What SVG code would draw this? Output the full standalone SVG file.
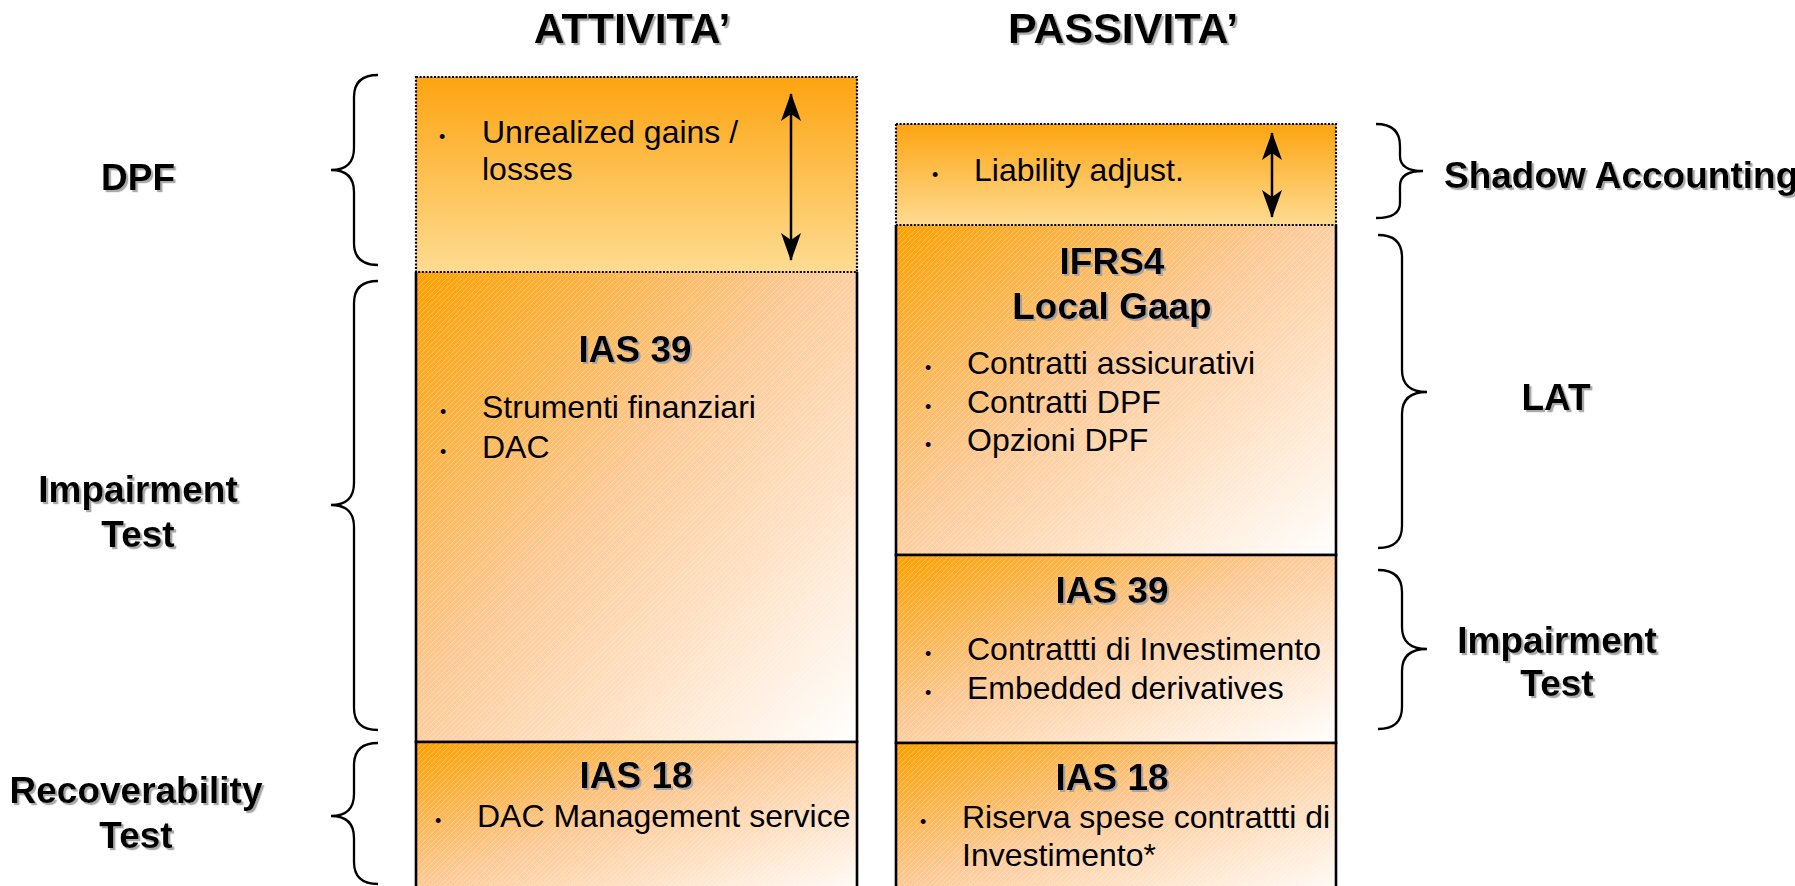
<svg xmlns="http://www.w3.org/2000/svg" width="1795" height="886" viewBox="0 0 1795 886">
  <defs>
    <style>
      text { font-family: "Liberation Sans", Arial, sans-serif; fill: #000; }
      .hdr { font-size: 43px; font-weight: bold; text-anchor: middle; filter: url(#shadow); }
      .lbl { font-size: 37px; font-weight: bold; text-anchor: middle; filter: url(#shadow); }
      .ttl { font-size: 37px; font-weight: bold; text-anchor: middle; filter: url(#shadowb); }
      .item { font-size: 32px; }
      .bul { font-size: 18px; }
      .brace { fill: none; stroke: #000; stroke-width: 2.3; }
      .dotted { stroke: #000; stroke-width: 2.2; stroke-dasharray: 2 1.6; }
      .solid { fill: none; stroke: #000; stroke-width: 2.6; }
      .arrow { stroke: #000; stroke-width: 2.5; fill: none; marker-start: url(#head); marker-end: url(#head); }
    </style>
    <filter id="shadow" x="-10%" y="-20%" width="130%" height="150%">
      <feDropShadow dx="2.2" dy="2.2" stdDeviation="0.7" flood-color="#8c8c8c" flood-opacity="0.75"/>
    </filter>
    <filter id="shadowb" x="-10%" y="-20%" width="130%" height="150%">
      <feDropShadow dx="2" dy="2" stdDeviation="0.7" flood-color="#8d9bb0" flood-opacity="0.8"/>
    </filter>
    <linearGradient id="gradV" x1="0" y1="0" x2="0" y2="1">
      <stop offset="0" stop-color="#FDA410"/>
      <stop offset="1" stop-color="#FEDC92"/>
    </linearGradient>
    <linearGradient id="gradD" x1="0" y1="0" x2="1" y2="1">
      <stop offset="0" stop-color="#FFA000"/>
      <stop offset="0.45" stop-color="#FFC995"/>
      <stop offset="1" stop-color="#FFFFFF"/>
    </linearGradient>
    <pattern id="hatch" patternUnits="userSpaceOnUse" width="5" height="5">
      <path d="M0 5 L5 0 M-1 1 L1 -1 M4 6 L6 4" stroke="#FFFFFF" stroke-opacity="0.28" stroke-width="1"/>
    </pattern>
    <marker id="head" markerUnits="userSpaceOnUse" viewBox="0 0 28 20" markerWidth="28" markerHeight="20" refX="27" refY="10" orient="auto-start-reverse">
      <path d="M0 0 L28 10 L0 20 L7 10 Z" fill="#000"/>
    </marker>
  </defs>

  <rect x="0" y="0" width="1795" height="886" fill="#FFFFFF"/>

  <!-- Column headers -->
  <g id="header-attivita">
    <text class="hdr" x="632" y="43">ATTIVITA’</text>
  </g>
  <g id="header-passivita">
    <text class="hdr" x="1123" y="43">PASSIVITA’</text>
  </g>

  <!-- ATTIVITA' column -->
  <g id="node-ias39-left">
    <rect x="416" y="272" width="441" height="470" fill="url(#gradD)"/>
    <rect x="416" y="272" width="441" height="470" fill="url(#hatch)"/>
    <path class="solid" d="M416 272 V742 H857 V272"/>
    <text class="ttl" x="635" y="362">IAS 39</text>
    <text class="bul" x="440" y="418">•</text>
    <text class="item" x="482" y="418">Strumenti finanziari</text>
    <text class="bul" x="440" y="458">•</text>
    <text class="item" x="482" y="458">DAC</text>
  </g>

  <g id="node-ias18-left">
    <rect x="416" y="742" width="441" height="160" fill="url(#gradD)"/>
    <rect x="416" y="742" width="441" height="160" fill="url(#hatch)"/>
    <path class="solid" d="M416 902 V742 H857 V902"/>
    <text class="ttl" x="636" y="788">IAS 18</text>
    <text class="bul" x="435" y="827">•</text>
    <text class="item" x="477" y="827">DAC Management service</text>
  </g>

  <g id="node-dpf-box">
    <rect class="dotted" x="416" y="77" width="441" height="195" fill="url(#gradV)"/>
    <text class="bul" x="439" y="143">•</text>
    <text class="item" x="482" y="143">Unrealized gains /</text>
    <text class="item" x="482" y="180">losses</text>
  </g>

  <!-- PASSIVITA' column -->
  <g id="node-ifrs4">
    <rect x="896" y="225" width="440" height="330" fill="url(#gradD)"/>
    <rect x="896" y="225" width="440" height="330" fill="url(#hatch)"/>
    <path class="solid" d="M896 225 V555 H1336 V225"/>
    <text class="ttl" x="1112" y="274">IFRS4</text>
    <text class="ttl" x="1112" y="319">Local Gaap</text>
    <text class="bul" x="925" y="374">•</text>
    <text class="item" x="967" y="374">Contratti assicurativi</text>
    <text class="bul" x="925" y="413">•</text>
    <text class="item" x="967" y="413">Contratti DPF</text>
    <text class="bul" x="925" y="451">•</text>
    <text class="item" x="967" y="451">Opzioni DPF</text>
  </g>

  <g id="node-ias39-right">
    <rect x="896" y="555" width="440" height="188" fill="url(#gradD)"/>
    <rect x="896" y="555" width="440" height="188" fill="url(#hatch)"/>
    <path class="solid" d="M896 555 V743 H1336 V555 Z"/>
    <text class="ttl" x="1112" y="603">IAS 39</text>
    <text class="bul" x="925" y="660">•</text>
    <text class="item" x="967" y="660">Contrattti di Investimento</text>
    <text class="bul" x="925" y="699">•</text>
    <text class="item" x="967" y="699">Embedded derivatives</text>
  </g>

  <g id="node-ias18-right">
    <rect x="896" y="743" width="440" height="160" fill="url(#gradD)"/>
    <rect x="896" y="743" width="440" height="160" fill="url(#hatch)"/>
    <path class="solid" d="M896 903 V743 H1336 V903"/>
    <text class="ttl" x="1112" y="790">IAS 18</text>
    <text class="bul" x="920" y="828">•</text>
    <text class="item" x="962" y="828">Riserva spese contrattti di</text>
    <text class="item" x="962" y="866">Investimento*</text>
  </g>

  <g id="node-shadow-box">
    <rect class="dotted" x="896" y="124" width="440" height="101" fill="url(#gradV)"/>
    <text class="bul" x="932" y="181">•</text>
    <text class="item" x="974" y="181">Liability adjust.</text>
  </g>

  <!-- Left side labels with braces -->
  <g id="label-dpf">
    <path class="brace" d="M378 75 C362 75 354 82 354 97 L354 148 C354 163 346 170 331 170 C346 170 354 177 354 192 L354 243 C354 258 362 265 378 265"/>
    <text class="lbl" x="138" y="190">DPF</text>
  </g>
  <g id="label-impairment-left">
    <path class="brace" d="M378 281 C362 281 354 288 354 303 L354 483 C354 498 346 505 331 505 C346 505 354 512 354 527 L354 708 C354 723 362 730 378 730"/>
    <text class="lbl" x="138" y="502">Impairment</text>
    <text class="lbl" x="138" y="547">Test</text>
  </g>
  <g id="label-recoverability">
    <path class="brace" d="M378 743 C362 743 354 750 354 765 L354 794 C354 809 346 816 331 816 C346 816 354 823 354 838 L354 862 C354 877 362 884 378 884"/>
    <text class="lbl" x="136" y="803">Recoverability</text>
    <text class="lbl" x="136" y="848">Test</text>
  </g>

  <!-- Right side labels with braces -->
  <g id="label-shadow-accounting">
    <path class="brace" d="M1376 124 C1392 124 1400 131 1400 146 L1400 156 C1400 166 1408 171 1423 171 C1408 171 1400 176 1400 186 L1400 203 C1400 213 1392 218 1376 218"/>
    <text class="lbl" x="1444" y="188" style="text-anchor:start">Shadow Accounting</text>
  </g>
  <g id="label-lat">
    <path class="brace" d="M1378 235 C1394 235 1402 242 1402 257 L1402 370 C1402 385 1410 392 1427 392 C1410 392 1402 399 1402 414 L1402 526 C1402 541 1394 548 1378 548"/>
    <text class="lbl" x="1556" y="410">LAT</text>
  </g>
  <g id="label-impairment-right">
    <path class="brace" d="M1378 570 C1394 570 1402 577 1402 592 L1402 627 C1402 642 1410 649 1427 649 C1410 649 1402 656 1402 671 L1402 707 C1402 722 1394 729 1378 729"/>
    <text class="lbl" x="1557" y="653">Impairment</text>
    <text class="lbl" x="1557" y="696">Test</text>
  </g>

  <!-- Connectors -->
  <g id="connectors">
    <line class="arrow" x1="791" y1="94" x2="791" y2="260"/>
    <line class="arrow" x1="1272" y1="133" x2="1272" y2="217"/>
  </g>
</svg>
